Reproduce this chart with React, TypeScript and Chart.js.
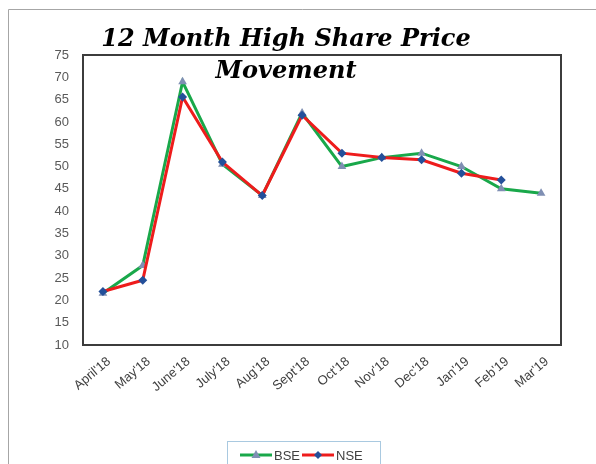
import React, { useEffect, useRef } from "react";
import { Chart, registerables } from "chart.js";

Chart.register(...registerables);

const months = ["April'18", "May'18", "June'18", "July'18", "Aug'18", "Sept'18", "Oct'18", "Nov'18", "Dec'18", "Jan'19", "Feb'19", "Mar'19"];
const bseValues = [21.6, 27.8, 69, 50.5, 43.5, 62, 50, 52, 53, 50, 45, 44];
const nseValues: (number | null)[] = [22, 24.5, 65.6, 51, 43.5, 61.5, 53, 52, 51.5, 48.5, 47, null];
const titleLines = ["12 Month High Share Price", "Movement"];
const seriesNames = ["BSE", "NSE"];

const GREEN = "#19a84a";
const RED = "#ee1c1c";
const TRI = "#7f8fb3";
const DIA = "#24509a";

function drawMarker(ctx: CanvasRenderingContext2D, kind: string, x: number, y: number, r: number, color: string) {
  ctx.save();
  ctx.fillStyle = color;
  ctx.beginPath();
  if (kind === "triangle") {
    ctx.moveTo(x, y - r);
    ctx.lineTo(x + r * 0.9, y + r * 0.6);
    ctx.lineTo(x - r * 0.9, y + r * 0.6);
  } else {
    ctx.moveTo(x, y - r);
    ctx.lineTo(x + r, y);
    ctx.lineTo(x, y + r);
    ctx.lineTo(x - r, y);
  }
  ctx.closePath();
  ctx.fill();
  ctx.restore();
}

const decoPlugin = {
  id: "deco",
  beforeDraw(chart: any) {
    const ctx = chart.ctx as CanvasRenderingContext2D;
    ctx.save();
    ctx.strokeStyle = "#a6a6a6";
    ctx.lineWidth = 1;
    ctx.beginPath();
    ctx.moveTo(8.5, 464);
    ctx.lineTo(8.5, 9.5);
    ctx.lineTo(596, 9.5);
    ctx.stroke();
    ctx.restore();
  },
  beforeDatasetsDraw(chart: any) {
    const ctx = chart.ctx as CanvasRenderingContext2D;
    const a = chart.chartArea;
    ctx.save();
    ctx.strokeStyle = "#3c3c3c";
    ctx.lineWidth = 2;
    ctx.strokeRect(a.left, a.top, a.right - a.left, a.bottom - a.top);
    ctx.restore();
  },
  afterDraw(chart: any) {
    const ctx = chart.ctx as CanvasRenderingContext2D;
    ctx.save();
    ctx.fillStyle = "#000000";
    ctx.textAlign = "center";
    ctx.textBaseline = "alphabetic";
    ctx.font = "italic bold 24px 'DejaVu Serif'";
    ctx.fillText(titleLines[0], 286, 46);
    ctx.fillText(titleLines[1], 286, 78);
    ctx.strokeStyle = "#a9c9e0";
    ctx.lineWidth = 1;
    ctx.strokeRect(227.5, 441.5, 153, 40);
    ctx.font = "13px 'Liberation Sans'";
    ctx.textAlign = "left";
    ctx.textBaseline = "middle";
    const items = [
      { x: 240, color: GREEN, marker: "triangle", mcolor: TRI, name: seriesNames[0] },
      { x: 302, color: RED, marker: "diamond", mcolor: DIA, name: seriesNames[1] },
    ];
    const y = 455;
    items.forEach((it) => {
      ctx.strokeStyle = it.color;
      ctx.lineWidth = 3;
      ctx.beginPath();
      ctx.moveTo(it.x, y);
      ctx.lineTo(it.x + 32, y);
      ctx.stroke();
      drawMarker(ctx, it.marker, it.x + 16, y, it.marker === "triangle" ? 5 : 4, it.mcolor);
      ctx.fillStyle = "#404040";
      ctx.fillText(it.name, it.x + 34, y + 1);
    });
    ctx.restore();
  },
};

export default function App() {
  const ref = useRef<HTMLCanvasElement | null>(null);
  useEffect(() => {
    if (!ref.current) return;
    const chart = new Chart(ref.current, {
      type: "line",
      data: {
        labels: months,
        datasets: [
          {
            label: seriesNames[0],
            data: bseValues,
            borderColor: GREEN,
            borderWidth: 3,
            pointStyle: "triangle",
            pointRadius: 5,
            pointBackgroundColor: TRI,
            pointBorderColor: TRI,
            pointBorderWidth: 0,
            tension: 0,
            order: 2,
          },
          {
            label: seriesNames[1],
            data: nseValues,
            borderColor: RED,
            borderWidth: 3,
            pointStyle: "rectRot",
            pointRadius: 4.5,
            pointBackgroundColor: DIA,
            pointBorderColor: DIA,
            pointBorderWidth: 0,
            tension: 0,
            order: 1,
          },
        ],
      },
      options: {
        responsive: false,
        animation: false,
        layout: { padding: { top: 55, right: 35, left: 0, bottom: 0 } },
        plugins: {
          legend: { display: false },
          title: { display: false },
          tooltip: { enabled: false },
        },
        scales: {
          x: {
            offset: true,
            grid: { display: false, drawTicks: false },
            border: { display: false },
            ticks: {
              minRotation: 40,
              maxRotation: 40,
              padding: 9,
              labelOffset: 6,
              color: "#404040",
              font: { family: "'Liberation Sans'", size: 13 },
            },
            afterFit: (axis: any) => {
              axis.height = 119;
            },
          },
          y: {
            min: 10,
            max: 75,
            grid: { display: false, drawTicks: false },
            border: { display: false },
            ticks: {
              stepSize: 5,
              padding: 14,
              color: "#595959",
              font: { family: "'Liberation Sans'", size: 13 },
            },
            afterFit: (axis: any) => {
              axis.width = 83;
            },
          },
        },
      },
      plugins: [decoPlugin],
    });
    return () => chart.destroy();
  }, []);
  return (
    <div style={{ position: "absolute", left: 0, top: 0, width: 596, height: 464, overflow: "hidden", background: "#fff" }}>
      <canvas ref={ref} width={596} height={464} style={{ display: "block", width: 596, height: 464 }} />
    </div>
  );
}
